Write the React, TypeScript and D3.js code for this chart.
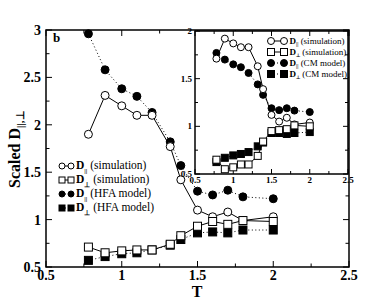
import * as d3 from "d3";
import { FC } from "react";

// temperatures shared by all series
const T: number[] = [0.78, 0.89, 1.0, 1.1, 1.2, 1.32, 1.39, 1.5, 1.6, 1.7, 1.8, 2.0];

// main panel
const simPar: number[] = [1.9, 2.31, 2.2, 2.1, 2.1, 1.77, 1.42, 1.1, 1.03, 1.08, 0.99, 1.03];
const simPerp: number[] = [0.71, 0.65, 0.67, 0.68, 0.68, 0.74, 0.83, 0.93, 0.98, 0.95, 0.99, 0.98];
const hfaPar: number[] = [2.96, 2.58, 2.38, 2.3, 2.13, 1.82, 1.57, 1.3, 1.26, 1.31, 1.24, 1.22];
const hfaPerp: number[] = [0.57, 0.61, 0.64, 0.65, 0.68, 0.73, 0.79, 0.86, 0.87, 0.86, 0.89, 0.89];

// inset panel
const insSimPar: number[] = [1.71, 1.92, 1.87, 1.83, 1.83, 1.63, 1.39, 1.12, 1.05, 1.09, 1.02, 1.04];
const insSimPerp: number[] = [0.65, 0.55, 0.57, 0.6, 0.6, 0.69, 0.84, 0.95, 0.96, 0.97, 1.01, 1.0];
const cmPar: number[] = [1.77, 1.7, 1.65, 1.62, 1.56, 1.44, 1.33, 1.19, 1.17, 1.19, 1.165, 1.15];
const cmPerp: number[] = [0.625, 0.67, 0.695, 0.71, 0.73, 0.79, 0.83, 0.93, 0.93, 0.92, 0.93, 0.94];

const xTicks = ["0.5", "1", "1.5", "2", "2.5"];
const yTicksMain = ["0.5", "1", "1.5", "2", "2.5", "3"];
const yTicksInset = ["0.5", "1", "1.5", "2"];

const FONT = "'Liberation Serif', 'Times New Roman', serif";

type Kind = "openCircle" | "openSquare" | "filledCircle" | "filledSquare";

const Marker: FC<{ kind: Kind; x: number; y: number; s: number }> = ({ kind, x, y, s }) => {
  const filled = kind.startsWith("filled");
  const fill = filled ? "#000" : "#fff";
  if (kind.endsWith("Circle"))
    return <circle cx={x} cy={y} r={s} fill={fill} stroke="#000" strokeWidth={1} />;
  return <rect x={x - s} y={y - s} width={2 * s} height={2 * s} fill={fill} stroke="#000" strokeWidth={1} />;
};

const Frame: FC<{
  x: d3.ScaleLinear<number, number>;
  y: d3.ScaleLinear<number, number>;
  yMin: number;
  yMax: number;
  major: number;
  minor: number;
}> = ({ x, y, yMin, yMax, major, minor }) => {
  const [x0, x1] = x.range();
  const [y0, y1] = y.range();
  const xt = d3.range(0.5, 2.5001, 0.25);
  const yt = d3.range(yMin, yMax + 0.0001, 0.25);
  const isMajor = (v: number) => Math.abs(v * 2 - Math.round(v * 2)) < 1e-6;
  return (
    <g stroke="#000" strokeWidth={1}>
      <rect x={x0} y={y1} width={x1 - x0} height={y0 - y1} fill="#fff" strokeWidth={1.5} />
      {xt.map((v) => {
        const l = isMajor(v) ? major : minor;
        return (
          <g key={"x" + v}>
            <line x1={x(v)} x2={x(v)} y1={y0} y2={y0 - l} />
            <line x1={x(v)} x2={x(v)} y1={y1} y2={y1 + l} />
          </g>
        );
      })}
      {yt.map((v) => {
        const l = isMajor(v) ? major : minor;
        return (
          <g key={"y" + v}>
            <line x1={x0} x2={x0 + l} y1={y(v)} y2={y(v)} />
            <line x1={x1} x2={x1 - l} y1={y(v)} y2={y(v)} />
          </g>
        );
      })}
    </g>
  );
};

const Series: FC<{
  x: d3.ScaleLinear<number, number>;
  y: d3.ScaleLinear<number, number>;
  vals: number[];
  kind: Kind;
  dotted: boolean;
  s: number;
}> = ({ x, y, vals, kind, dotted, s }) => {
  const line = d3
    .line<number>()
    .x((_, i) => x(T[i]))
    .y((d) => y(d));
  return (
    <g>
      <path
        d={line(vals) || ""}
        fill="none"
        stroke="#000"
        strokeWidth={1}
        strokeDasharray={dotted ? "1,2.5" : undefined}
      />
      {vals.map((v, i) => (
        <Marker key={i} kind={kind} x={x(T[i])} y={y(v)} s={s} />
      ))}
    </g>
  );
};

const LegendRow: FC<{
  x: number;
  y: number;
  gap: number;
  kind: Kind;
  dotted: boolean;
  s: number;
  sub: string;
  label: string;
  size: number;
}> = ({ x, y, gap, kind, dotted, s, sub, label, size }) => (
  <g>
    <line
      x1={x}
      x2={x + gap}
      y1={y}
      y2={y}
      stroke="#000"
      strokeWidth={1}
      strokeDasharray={dotted ? "1,2" : undefined}
    />
    <Marker kind={kind} x={x} y={y} s={s} />
    <Marker kind={kind} x={x + gap} y={y} s={s} />
    <text x={x + gap + s + 2} y={y + size * 0.3} fontSize={size} style={{ fontFamily: FONT }}>
      <tspan fontWeight="bold">D</tspan>
      <tspan fontSize={size * 0.6} dy={size * 0.28} fontWeight="bold">
        {sub}
      </tspan>
      <tspan dy={-size * 0.28}>{" " + label}</tspan>
    </text>
  </g>
);

const App: FC = () => {
  const x = d3.scaleLinear().domain([0.5, 2.5]).range([46, 349]);
  const y = d3.scaleLinear().domain([0.5, 3]).range([267, 30]);
  const xi = d3.scaleLinear().domain([0.5, 2.5]).range([195, 348]);
  const yi = d3.scaleLinear().domain([0.5, 2]).range([174, 31]);

  const mainSeries: { vals: number[]; kind: Kind; dotted: boolean }[] = [
    { vals: hfaPar, kind: "filledCircle", dotted: true },
    { vals: hfaPerp, kind: "filledSquare", dotted: true },
    { vals: simPar, kind: "openCircle", dotted: false },
    { vals: simPerp, kind: "openSquare", dotted: false },
  ];
  const insetSeries: { vals: number[]; kind: Kind; dotted: boolean }[] = [
    { vals: cmPar, kind: "filledCircle", dotted: true },
    { vals: cmPerp, kind: "filledSquare", dotted: true },
    { vals: insSimPar, kind: "openCircle", dotted: false },
    { vals: insSimPerp, kind: "openSquare", dotted: false },
  ];

  const mainLegend: { kind: Kind; dotted: boolean; sub: string; label: string }[] = [
    { kind: "openCircle", dotted: false, sub: "||", label: "(simulation)" },
    { kind: "openSquare", dotted: false, sub: "⊥", label: "(simulation)" },
    { kind: "filledCircle", dotted: true, sub: "||", label: "(HFA model)" },
    { kind: "filledSquare", dotted: true, sub: "⊥", label: "(HFA model)" },
  ];
  const insetLegend: { kind: Kind; dotted: boolean; sub: string; label: string }[] = [
    { kind: "openCircle", dotted: false, sub: "||", label: "(simulation)" },
    { kind: "openSquare", dotted: false, sub: "⊥", label: "(simulation)" },
    { kind: "filledCircle", dotted: true, sub: "||", label: "(CM model)" },
    { kind: "filledSquare", dotted: true, sub: "⊥", label: "(CM model)" },
  ];

  return (
    <svg
      width={388}
      height={300}
      style={{ position: "absolute", left: 0, top: 0, background: "#fff", fontFamily: FONT }}
    >
      {/* main panel */}
      <Frame x={x} y={y} yMin={0.5} yMax={3} major={6} minor={3.5} />
      {mainSeries.map((s, i) => (
        <Series key={i} x={x} y={y} vals={s.vals} kind={s.kind} dotted={s.dotted} s={4} />
      ))}
      {mainLegend.map((l, i) => (
        <LegendRow key={i} x={62} y={166 + i * 14} gap={9} s={3} size={11.5} {...l} />
      ))}
      <text x={53} y={42} fontSize={13} fontWeight="bold">
        b
      </text>
      {xTicks.map((t) => (
        <text key={t} x={x(+t)} y={280} fontSize={14} fontWeight="bold" textAnchor="middle">
          {t}
        </text>
      ))}
      {yTicksMain.map((t) => (
        <text key={t} x={41} y={y(+t) + 5} fontSize={14} fontWeight="bold" textAnchor="end">
          {t}
        </text>
      ))}
      <text x={197} y={297} fontSize={16} fontWeight="bold" textAnchor="middle">
        T
      </text>
      <text transform="translate(20,188) rotate(-90)" fontSize={16} fontWeight="bold">
        Scaled D
        <tspan fontSize={11} dy={4}>
          {"||,⊥"}
        </tspan>
      </text>

      {/* inset panel */}
      <Frame x={xi} y={yi} yMin={0.5} yMax={2} major={5} minor={3} />
      {insetSeries.map((s, i) => (
        <Series key={i} x={xi} y={yi} vals={s.vals} kind={s.kind} dotted={s.dotted} s={3.5} />
      ))}
      {insetLegend.map((l, i) => (
        <LegendRow key={i} x={271} y={41 + i * 11} gap={13} s={3.5} size={9} {...l} />
      ))}
      {xTicks.map((t) => (
        <text key={t} x={xi(+t)} y={183} fontSize={9} fontWeight="bold" textAnchor="middle">
          {t}
        </text>
      ))}
      {yTicksInset.map((t) => (
        <text key={t} x={192} y={yi(+t) + 3} fontSize={9} fontWeight="bold" textAnchor="end">
          {t}
        </text>
      ))}
    </svg>
  );
};

export default App;
